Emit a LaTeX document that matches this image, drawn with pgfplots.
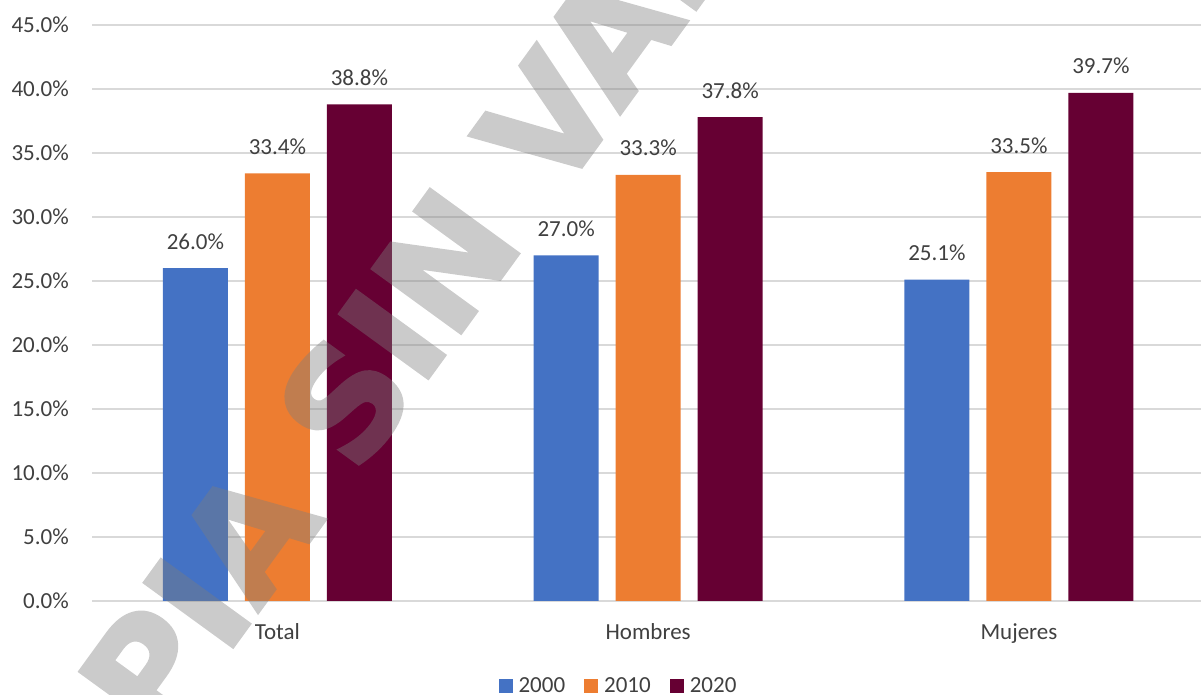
\documentclass[border=0pt]{standalone}
\usepackage{pgfplots}
\pgfplotsset{compat=1.18}
\usepackage{fontspec}
\setmainfont{Carlito}
\newfontfamily\wmfont{DejaVu Sans Bold}[FakeBold=2.2]
\definecolor{cA}{HTML}{4472C4}
\definecolor{cB}{HTML}{ED7D31}
\definecolor{cC}{HTML}{660033}
\definecolor{gridc}{HTML}{D9D9D9}
\definecolor{txt}{HTML}{404040}
\definecolor{wm}{HTML}{7D7D7D}
\begin{document}
\begin{tikzpicture}
\useasboundingbox (0,0) rectangle (1201bp,695bp);
\begin{axis}[
  at={(92bp,94bp)}, anchor=south west,
  scale only axis,
  width=1108.6bp, height=576bp,
  xmin=-0.5, xmax=2.49,
  ymin=0, ymax=45,
  ybar=17bp, bar width=65bp,
  axis line style={draw=none},
  major tick length=0pt,
  ymajorgrids, grid style={gridc, line width=1.2bp},
  xtick={0,1,2},
  xticklabels={Total,Hombres,Mujeres},
  ytick={0,5,...,45},
  /pgf/number format/assume math mode=true,
  yticklabel={\pgfmathprintnumber[fixed,fixed zerofill,precision=1]{\tick}\%},
  ticklabel style={font=\fontsize{23bp}{27bp}\selectfont, text=txt},
  xticklabel style={anchor=base, yshift=-38bp, inner sep=0pt},
  yticklabel style={anchor=east, xshift=-23bp, inner sep=0pt},
  nodes near coords={\pgfmathprintnumber[fixed,fixed zerofill,precision=1]{\pgfplotspointmeta}\%},
  nodes near coords style={anchor=base, yshift=19bp, inner sep=0pt, font=\fontsize{23bp}{27bp}\selectfont, text=txt},
  legend columns=-1,
  legend style={draw=none, fill=none, at={(0.474,-0.1476)}, anchor=center,
    font=\fontsize{23bp}{27bp}\selectfont, text=txt,
    nodes={inner sep=0pt},
    /tikz/every odd column/.append style={column sep=6bp},
    /tikz/every even column/.append style={column sep=19bp}},
  legend image code/.code={\path[#1, draw=none] (0bp,-7bp) rectangle (14bp,7bp);},
]
\addplot[fill=cA, draw=none] coordinates {(0,26.0) (1,27.0) (2,25.1)};
\addplot[fill=cB, draw=none] coordinates {(0,33.4) (1,33.3) (2,33.5)};
\addplot[fill=cC, draw=none] coordinates {(0,38.8) (1,37.8) (2,39.7)};
\legend{2000,2010,2020}
\end{axis}
\begin{scope}
\clip (0,0) rectangle (1201bp,695bp);
\begin{scope}[transparency group, opacity=0.4]
\node[rotate=54, text=wm, inner sep=0pt,
  font=\fontsize{150bp}{150bp}\wmfont] at (408bp,382bp) {COPIA SIN VALOR};
\end{scope}
\end{scope}
\end{tikzpicture}
\end{document}
